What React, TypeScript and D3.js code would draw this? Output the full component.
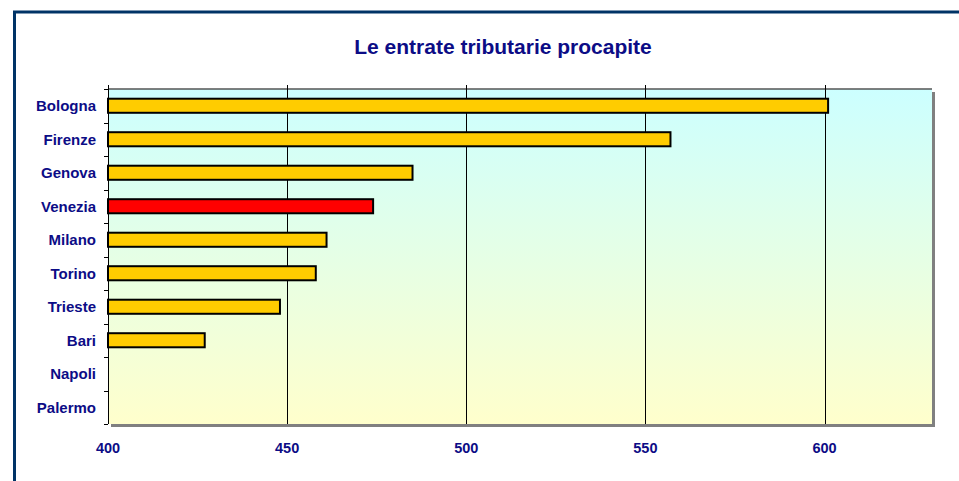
import React from "react";
import * as d3 from "d3";

const categories = ["Bologna", "Firenze", "Genova", "Venezia", "Milano", "Torino", "Trieste", "Bari", "Napoli", "Palermo"];
const values: (number | null)[] = [601, 557, 485, 474, 461, 458, 448, 427, null, null];
const highlight = ["Venezia"];
const xTicks = [400, 450, 500, 550, 600];
const title = "Le entrate tributarie procapite";

const W = 959;
const H = 481;
const plot = { left: 108, top: 89, right: 932, bottom: 424 };
const navy = "#0c0c86";

export default function App() {
  const x = d3.scaleLinear().domain([400, 630]).range([plot.left, plot.right]);
  const y = d3.scaleBand().domain(categories).range([plot.top, plot.bottom]).paddingInner(0.58).paddingOuter(0.29);
  const rowH = (plot.bottom - plot.top) / categories.length;
  const font = "Arial, 'Liberation Sans', sans-serif";

  return (
    <svg width={W} height={H} style={{ position: "absolute", left: 0, top: 0, display: "block" }}>
      <defs>
        <linearGradient id="bg" x1="0" y1="0" x2="0" y2="1">
          <stop offset="0" stopColor="#ccffff" />
          <stop offset="1" stopColor="#ffffcc" />
        </linearGradient>
      </defs>
      <rect x={0} y={0} width={W} height={H} fill="#ffffff" />
      {/* frame */}
      <rect x={14.5} y={12} width={W + 20} height={H + 20} fill="none" stroke="#003366" strokeWidth={3} />
      <text x={503} y={54} textAnchor="middle" fontFamily={font} fontWeight="bold" fontSize={21} fill={navy}>
        {title}
      </text>
      {/* shadow */}
      <rect x={plot.left + 3} y={plot.top + 3} width={plot.right - plot.left} height={plot.bottom - plot.top} fill="#808080" />
      <rect x={plot.left} y={plot.top} width={plot.right - plot.left} height={plot.bottom - plot.top} fill="url(#bg)" />
      <line x1={plot.left} x2={plot.right} y1={plot.top} y2={plot.top} stroke="#555" strokeWidth={1.5} />
      {/* gridlines */}
      {xTicks.slice(1).map((t) => (
        <line key={t} x1={Math.round(x(t)) + 0.5} x2={Math.round(x(t)) + 0.5} y1={plot.top - 4} y2={plot.bottom} stroke="#000" strokeWidth={1} />
      ))}
      <line x1={plot.left + 0.5} x2={plot.left + 0.5} y1={plot.top - 4} y2={plot.top} stroke="#000" />
      {/* bars */}
      {categories.map((c, i) =>
        values[i] == null ? null : (
          <rect
            key={c}
            x={x(400)}
            y={y(c)!}
            width={x(values[i] as number) - x(400)}
            height={y.bandwidth()}
            fill={highlight.includes(c) ? "#ff0000" : "#ffcc00"}
            stroke="#000"
            strokeWidth={2}
          />
        )
      )}
      {/* left axis */}
      <line x1={plot.left + 0.5} x2={plot.left + 0.5} y1={plot.top} y2={plot.bottom} stroke="#000" strokeWidth={1} />
      {d3.range(categories.length + 1).map((i) => (
        <line key={i} x1={plot.left - 4} x2={plot.left} y1={Math.round(plot.top + i * rowH) + 0.5} y2={Math.round(plot.top + i * rowH) + 0.5} stroke="#000" />
      ))}
      {categories.map((c) => (
        <text key={c} x={96} y={y(c)! + y.bandwidth() / 2} dy="0.36em" textAnchor="end" fontFamily={font} fontWeight="bold" fontSize={15} fill={navy}>
          {c}
        </text>
      ))}
      {xTicks.map((t) => (
        <text key={t} x={x(t)} y={453} textAnchor="middle" fontFamily={font} fontWeight="bold" fontSize={14.5} fill={navy}>
          {t}
        </text>
      ))}
    </svg>
  );
}
